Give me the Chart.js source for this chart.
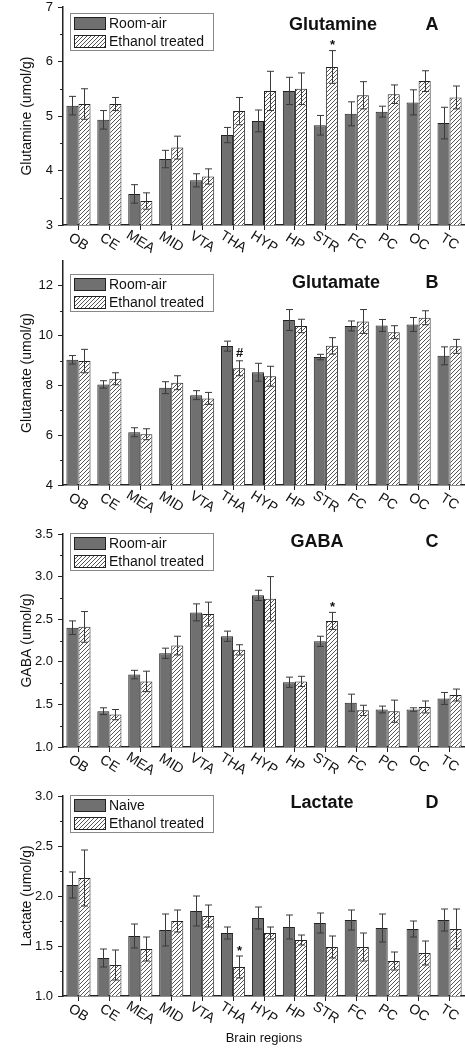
<!DOCTYPE html>
<html>
<head>
<meta charset="utf-8">
<script src="https://cdn.jsdelivr.net/npm/chart.js@4/dist/chart.umd.min.js"></script>
<style>
html, body { margin: 0; padding: 0; background: #fff; overflow: hidden; }
#wrap { position: relative; width: 465px; height: 1050px; overflow: hidden; }
#wrap canvas { position: absolute; left: 0; }
</style>
</head>
<body>
<div id="wrap">
  <canvas id="chartA"></canvas>
  <canvas id="chartB"></canvas>
  <canvas id="chartC"></canvas>
  <canvas id="chartD"></canvas>
</div>
<script>
// ── data ──
const regions = ['OB', 'CE', 'MEA', 'MID', 'VTA', 'THA', 'HYP', 'HP', 'STR', 'FC', 'PC', 'OC', 'TC'];

// A: Glutamine
const glnAir    = [5.19, 4.93, 3.57, 4.21, 3.82, 4.65, 4.91, 5.46, 4.83, 5.04, 5.08, 5.25, 4.87];
const glnAirErr = [0.17, 0.17, 0.17, 0.16, 0.12, 0.14, 0.20, 0.25, 0.18, 0.22, 0.10, 0.23, 0.29];
const glnEth    = [5.22, 5.22, 3.44, 4.42, 3.89, 5.09, 5.46, 5.50, 5.90, 5.38, 5.40, 5.64, 5.34];
const glnEthErr = [0.28, 0.12, 0.15, 0.21, 0.14, 0.25, 0.36, 0.29, 0.30, 0.25, 0.17, 0.19, 0.21];
const glnMarks  = ['', '', '', '', '', '', '', '', '*', '', '', '', ''];
const glnTicks  = [3, 4, 5, 6, 7];

// B: Glutamate
const gluAir    = [9.03, 8.04, 6.12, 7.91, 7.61, 9.58, 8.53, 10.63, 9.14, 10.39, 10.41, 10.45, 9.19];
const gluAirErr = [0.17, 0.15, 0.18, 0.24, 0.18, 0.20, 0.36, 0.42, 0.11, 0.20, 0.24, 0.28, 0.36];
const gluEth    = [8.98, 8.27, 6.04, 8.11, 7.48, 8.69, 8.37, 10.39, 9.59, 10.57, 10.14, 10.72, 9.57];
const gluEthErr = [0.47, 0.24, 0.22, 0.28, 0.24, 0.30, 0.40, 0.27, 0.33, 0.48, 0.26, 0.28, 0.28];
const gluMarks  = ['', '', '', '', '', '#', '', '', '', '', '', '', ''];
const gluTicks  = [4, 6, 8, 10, 12];

// C: GABA
const gabaAir    = [2.40, 1.42, 1.85, 2.10, 2.58, 2.30, 2.78, 1.76, 2.24, 1.52, 1.44, 1.44, 1.57];
const gabaAirErr = [0.08, 0.04, 0.05, 0.06, 0.10, 0.06, 0.06, 0.06, 0.06, 0.10, 0.04, 0.02, 0.07];
const gabaEth    = [2.41, 1.38, 1.77, 2.19, 2.56, 2.14, 2.74, 1.77, 2.48, 1.43, 1.42, 1.47, 1.61];
const gabaEthErr = [0.18, 0.06, 0.12, 0.11, 0.14, 0.06, 0.26, 0.06, 0.10, 0.06, 0.13, 0.07, 0.07];
const gabaMarks  = ['', '', '', '', '', '', '', '', '*', '', '', '', ''];
const gabaTicks  = [1.0, 1.5, 2.0, 2.5, 3.0, 3.5];

// D: Lactate
const lacNaive    = [2.11, 1.38, 1.60, 1.66, 1.85, 1.63, 1.78, 1.69, 1.73, 1.76, 1.68, 1.67, 1.76];
const lacNaiveErr = [0.13, 0.09, 0.12, 0.16, 0.15, 0.06, 0.11, 0.12, 0.10, 0.10, 0.14, 0.08, 0.11];
const lacEth      = [2.18, 1.31, 1.47, 1.75, 1.80, 1.29, 1.63, 1.56, 1.49, 1.49, 1.35, 1.43, 1.67];
const lacEthErr   = [0.28, 0.15, 0.12, 0.11, 0.11, 0.11, 0.06, 0.05, 0.11, 0.14, 0.09, 0.12, 0.20];
const lacMarks    = ['', '', '', '', '', '*', '', '', '', '', '', '', ''];
const lacTicks    = [1.0, 1.5, 2.0, 2.5, 3.0];

const DARK = '#707070';
const EDGE = '#222';
const FONT = "'Liberation Sans', Arial, sans-serif";

Chart.defaults.font.family = FONT;
Chart.defaults.color = '#111';

// hatch fill for the ethanol bars
function makeHatch() {
    const c = document.createElement('canvas');
    c.width = 4; c.height = 4;
    const g = c.getContext('2d');
    g.fillStyle = '#fff';
    g.fillRect(0, 0, 4, 4);
    g.strokeStyle = '#555';
    g.lineWidth = 1;
    g.beginPath();
    g.moveTo(0, 4); g.lineTo(4, 0);
    g.moveTo(-1, 1); g.lineTo(1, -1);
    g.moveTo(3, 5); g.lineTo(5, 3);
    g.stroke();
    return g.createPattern(c, 'repeat');
}
const HATCH = makeHatch();

// error bars + significance marks
const errorBarPlugin = {
    id: 'errorBars',
    afterDatasetsDraw(chart) {
        const { ctx, scales: { y } } = chart;
        ctx.save();
        chart.data.datasets.forEach((ds, di) => {
            const meta = chart.getDatasetMeta(di);
            meta.data.forEach((bar, i) => {
                const v = ds.data[i], e = ds.errors[i];
                const yTop = y.getPixelForValue(v + e);
                const yBot = y.getPixelForValue(v - e);
                const x = Math.round(bar.x) + 0.5;
                ctx.strokeStyle = '#3a3a3a';
                ctx.lineWidth = 1;
                ctx.beginPath();
                ctx.moveTo(x, yTop); ctx.lineTo(x, yBot);
                ctx.moveTo(x - 3.5, yTop); ctx.lineTo(x + 3.5, yTop);
                ctx.moveTo(x - 3.5, yBot); ctx.lineTo(x + 3.5, yBot);
                ctx.stroke();
                if (ds.marks && ds.marks[i]) {
                    ctx.fillStyle = '#111';
                    ctx.font = 'bold 13px ' + FONT;
                    ctx.textAlign = 'center';
                    ctx.textBaseline = 'middle';
                    ctx.fillText(ds.marks[i], x, yTop - (ds.marks[i] === '*' ? 5 : 7));
                }
            });
        });
        ctx.restore();
    }
};

// legend box, panel title, letter, slanted x labels, minor y ticks
const decoPlugin = {
    id: 'panelDeco',
    afterDraw(chart, args, opts) {
        const { ctx, chartArea, scales: { x, y } } = chart;
        ctx.save();

        // minor ticks between the major ones
        const mt = opts.ticks;
        ctx.strokeStyle = EDGE;
        ctx.lineWidth = 1;
        ctx.beginPath();
        for (let k = 0; k + 1 < mt.length; k++) {
            const py = Math.round(y.getPixelForValue((mt[k] + mt[k + 1]) / 2)) + 0.5;
            ctx.moveTo(chartArea.left - 3, py);
            ctx.lineTo(chartArea.left, py);
        }
        ctx.stroke();

        // slanted category labels
        ctx.fillStyle = '#111';
        ctx.font = '14px ' + FONT;
        ctx.textAlign = 'center';
        ctx.textBaseline = 'middle';
        regions.forEach((lab, i) => {
            ctx.save();
            ctx.translate(x.getPixelForValue(i), chartArea.bottom + 17);
            ctx.rotate(32 * Math.PI / 180);
            ctx.fillText(lab, 0, 0);
            ctx.restore();
        });

        // legend
        const lx = 70, ly = chartArea.top + opts.legendDy;
        ctx.fillStyle = '#fff';
        ctx.fillRect(lx, ly, 143, 37);
        ctx.strokeStyle = '#888';
        ctx.strokeRect(lx + 0.5, ly + 0.5, 143, 37);
        const fills = [DARK, HATCH];
        opts.labels.forEach((t, k) => {
            const sy = ly + 4 + k * 18;
            ctx.fillStyle = fills[k];
            ctx.fillRect(lx + 4, sy, 32, 13);
            ctx.strokeStyle = EDGE;
            ctx.strokeRect(lx + 4.5, sy + 0.5, 31, 12);
            ctx.fillStyle = '#111';
            ctx.font = '14px ' + FONT;
            ctx.textAlign = 'left';
            ctx.fillText(t, lx + 39, sy + 7);
        });

        // title + panel letter
        ctx.font = 'bold 18px ' + FONT;
        ctx.textAlign = 'center';
        ctx.fillText(opts.title, opts.titleX, chartArea.top + opts.titleDy);
        ctx.fillText(opts.letter, 432, chartArea.top + opts.titleDy);
        ctx.restore();
    }
};

function renderPanel(p) {
    const canvas = document.getElementById(p.id);
    canvas.width = 465;
    canvas.height = p.height;
    canvas.style.top = p.top + 'px';

    return new Chart(canvas.getContext('2d'), {
        type: 'bar',
        data: {
            labels: regions,
            datasets: [
                { label: p.labels[0], data: p.a, errors: p.aErr, backgroundColor: DARK, borderColor: EDGE, borderWidth: 1 },
                { label: p.labels[1], data: p.b, errors: p.bErr, marks: p.marks, backgroundColor: HATCH, borderColor: EDGE, borderWidth: 1 }
            ]
        },
        options: {
            responsive: false,
            animation: false,
            layout: { padding: { top: 20, left: 0, right: 0, bottom: 0 } },
            datasets: { bar: { categoryPercentage: 0.78, barPercentage: 1.0 } },
            plugins: {
                legend: { display: false },
                tooltip: { enabled: false },
                panelDeco: { ticks: p.ticks, labels: p.labels, legendDy: p.legendDy, title: p.title, titleX: p.titleX, titleDy: p.titleDy, letter: p.letter }
            },
            scales: {
                x: {
                    afterFit: s => { s.height = p.xHeight; },
                    ticks: { display: false },
                    grid: { offset: false, drawOnChartArea: false, drawTicks: true, tickLength: 5, tickColor: EDGE, tickWidth: 1 },
                    border: { display: true, color: EDGE, width: 1.5 },
                    title: { display: !!p.xTitle, text: p.xTitle || '', font: { size: 13 }, color: '#111', padding: { top: 0, bottom: 4 } }
                },
                y: {
                    min: p.min,
                    max: p.max,
                    afterFit: s => { s.width = 63; },
                    afterBuildTicks: s => { s.ticks = p.ticks.map(v => ({ value: v })); },
                    ticks: {
                        font: { size: 13 },
                        color: '#111',
                        padding: 5,
                        callback: v => Number(v).toFixed(p.decimals)
                    },
                    grid: { drawOnChartArea: false, drawTicks: true, tickLength: 5, tickColor: EDGE, tickWidth: 1 },
                    border: { display: true, color: EDGE, width: 1.5 },
                    title: { display: true, text: p.yTitle, font: { size: 14 }, color: '#111', padding: { top: 19, bottom: 0 } }
                }
            }
        },
        plugins: [errorBarPlugin, decoPlugin]
    });
}

const panels = [
    { id: 'chartA', top: -13, height: 268, xHeight: 30, a: glnAir, aErr: glnAirErr, b: glnEth, bErr: glnEthErr, marks: glnMarks,
      ticks: glnTicks, min: 3, max: 7, decimals: 0, yTitle: 'Glutamine (umol/g)', title: 'Glutamine', titleX: 333, titleDy: 18,
      letter: 'A', legendDy: 6, labels: ['Room-air', 'Ethanol treated'] },
    { id: 'chartB', top: 241, height: 274, xHeight: 30, a: gluAir, aErr: gluAirErr, b: gluEth, bErr: gluEthErr, marks: gluMarks,
      ticks: gluTicks, min: 4, max: 13, decimals: 0, yTitle: 'Glutamate (umol/g)', title: 'Glutamate', titleX: 336, titleDy: 22,
      letter: 'B', legendDy: 13, labels: ['Room-air', 'Ethanol treated'] },
    { id: 'chartC', top: 514, height: 263, xHeight: 30, a: gabaAir, aErr: gabaAirErr, b: gabaEth, bErr: gabaEthErr, marks: gabaMarks,
      ticks: gabaTicks, min: 1, max: 3.5, decimals: 1, yTitle: 'GABA (umol/g)', title: 'GABA', titleX: 317, titleDy: 8,
      letter: 'C', legendDy: -1, labels: ['Room-air', 'Ethanol treated'] },
    { id: 'chartD', top: 776, height: 274, xHeight: 54, a: lacNaive, aErr: lacNaiveErr, b: lacEth, bErr: lacEthErr, marks: lacMarks,
      ticks: lacTicks, min: 1, max: 3, decimals: 1, yTitle: 'Lactate (umol/g)', title: 'Lactate', titleX: 322, titleDy: 7,
      letter: 'D', legendDy: -1, labels: ['Naive', 'Ethanol treated'], xTitle: 'Brain regions' }
];

window.panelCharts = panels.map(renderPanel);
</script>
</body>
</html>
